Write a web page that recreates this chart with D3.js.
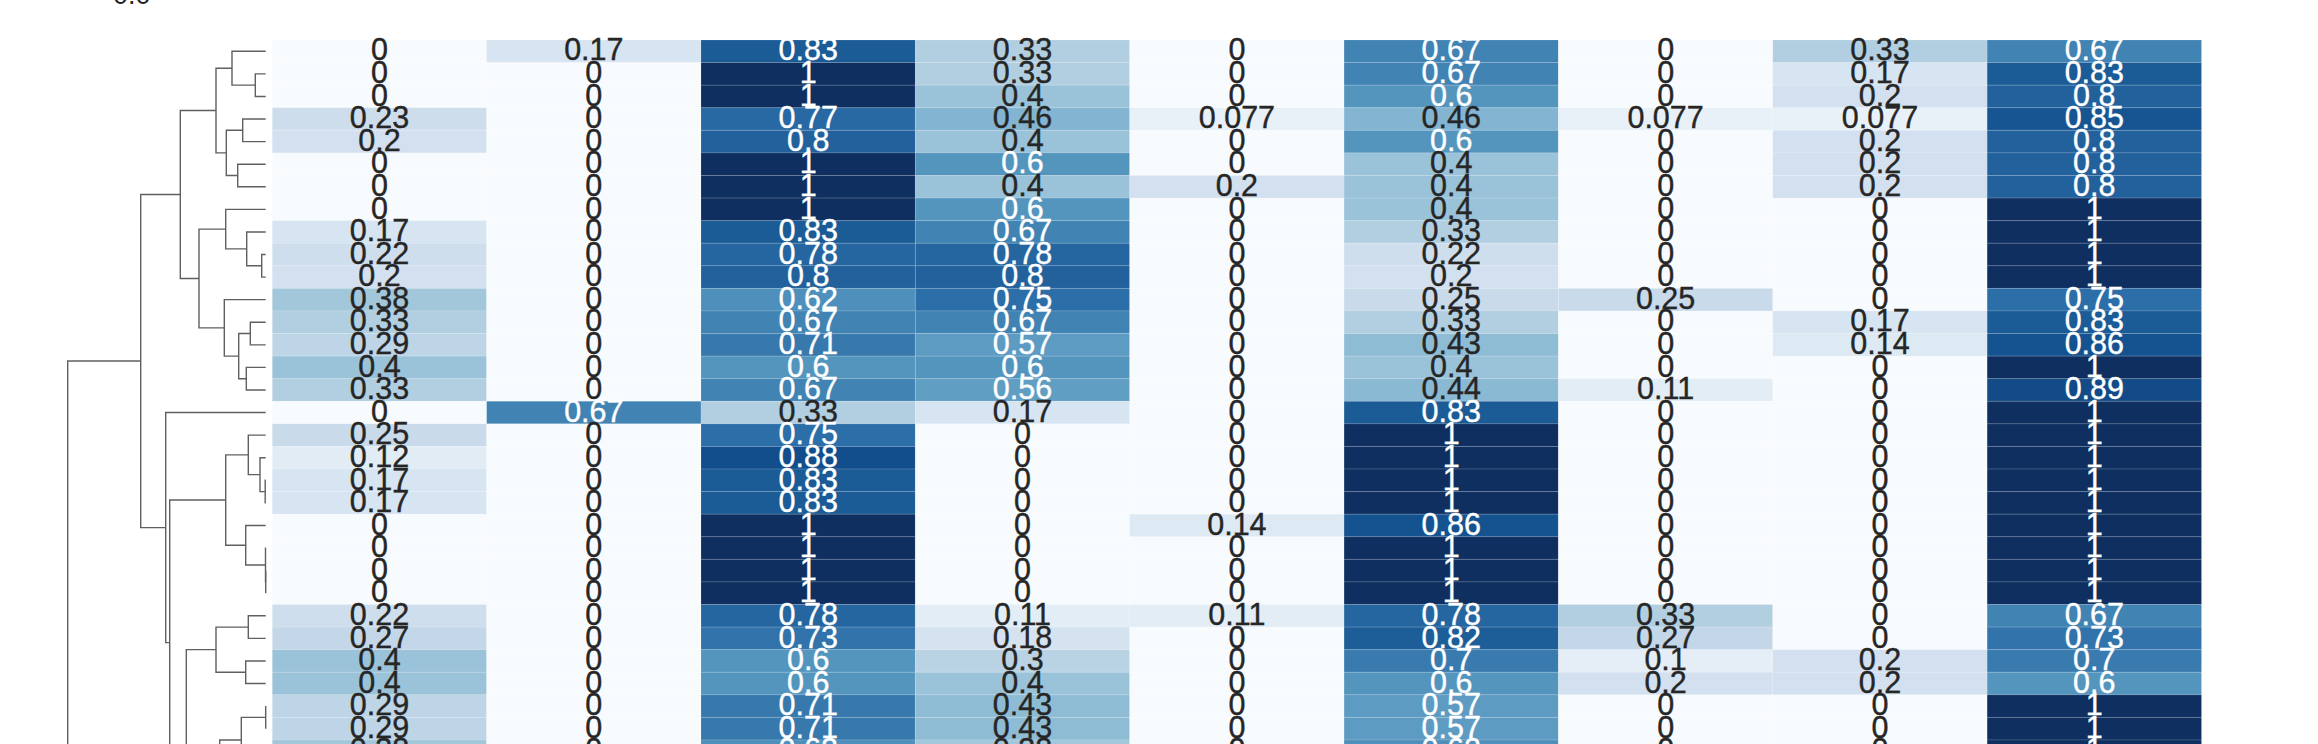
<!DOCTYPE html>
<html>
<head>
<meta charset="utf-8">
<script src="https://cdn.jsdelivr.net/npm/d3@7"></script>
<style>
  html, body { margin: 0; padding: 0; background: #ffffff; }
  svg { display: block; }
</style>
</head>
<body>
<script>
// ---------------- DATA (rows in dendrogram leaf order) ----------------
const columnKeys = ["c1", "c2", "c3", "c4", "c5", "c6", "c7", "c8", "c9"];

const col1 = [0, 0, 0, 0.23, 0.2, 0, 0, 0, 0.17, 0.22, 0.2, 0.38, 0.33, 0.29, 0.4, 0.33,
              0, 0.25, 0.12, 0.17, 0.17, 0, 0, 0, 0, 0.22, 0.27, 0.4, 0.4, 0.29, 0.29, 0.38];
const col2 = [0.17, 0, 0, 0, 0, 0, 0, 0, 0, 0, 0, 0, 0, 0, 0, 0,
              0.67, 0, 0, 0, 0, 0, 0, 0, 0, 0, 0, 0, 0, 0, 0, 0];
const col3 = [0.83, 1, 1, 0.77, 0.8, 1, 1, 1, 0.83, 0.78, 0.8, 0.62, 0.67, 0.71, 0.6, 0.67,
              0.33, 0.75, 0.88, 0.83, 0.83, 1, 1, 1, 1, 0.78, 0.73, 0.6, 0.6, 0.71, 0.71, 0.62];
const col4 = [0.33, 0.33, 0.4, 0.46, 0.4, 0.6, 0.4, 0.6, 0.67, 0.78, 0.8, 0.75, 0.67, 0.57, 0.6, 0.56,
              0.17, 0, 0, 0, 0, 0, 0, 0, 0, 0.11, 0.18, 0.3, 0.4, 0.43, 0.43, 0.38];
const col5 = [0, 0, 0, 0.077, 0, 0, 0.2, 0, 0, 0, 0, 0, 0, 0, 0, 0,
              0, 0, 0, 0, 0, 0.14, 0, 0, 0, 0.11, 0, 0, 0, 0, 0, 0];
const col6 = [0.67, 0.67, 0.6, 0.46, 0.6, 0.4, 0.4, 0.4, 0.33, 0.22, 0.2, 0.25, 0.33, 0.43, 0.4, 0.44,
              0.83, 1, 1, 1, 1, 0.86, 1, 1, 1, 0.78, 0.82, 0.7, 0.6, 0.57, 0.57, 0.62];
const col7 = [0, 0, 0, 0.077, 0, 0, 0, 0, 0, 0, 0, 0.25, 0, 0, 0, 0.11,
              0, 0, 0, 0, 0, 0, 0, 0, 0, 0.33, 0.27, 0.1, 0.2, 0, 0, 0];
const col8 = [0.33, 0.17, 0.2, 0.077, 0.2, 0.2, 0.2, 0, 0, 0, 0, 0, 0.17, 0.14, 0, 0,
              0, 0, 0, 0, 0, 0, 0, 0, 0, 0, 0, 0.2, 0.2, 0, 0, 0];
const col9 = [0.67, 0.83, 0.8, 0.85, 0.8, 0.8, 0.8, 1, 1, 1, 1, 0.75, 0.83, 0.86, 1, 0.89,
              1, 1, 1, 1, 1, 1, 1, 1, 1, 0.67, 0.73, 0.7, 0.6, 1, 1, 1];

// leaves of the row dendrogram that lie below the visible window
const hiddenLeafCount = 25;

// row linkage: [left, right, merge distance]; numbers = leaf index, "mK" = K-th merge
const linkage = [
  [1, 2, 0.104], [0, "m0", 0.337], [3, 4, 0.23], [5, 6, 0.28], ["m2", "m3", 0.394],
  ["m1", "m4", 0.497], [9, 10, 0.04], [8, "m6", 0.19], [7, "m7", 0.40], [12, 13, 0.154],
  [14, 15, 0.194], ["m9", "m10", 0.27], [11, "m11", 0.414], ["m8", "m12", 0.667], ["m5", "m13", 0.854],
  [19, 20, 0.005], [18, "m15", 0.057], [17, "m16", 0.174], [23, 24, 0.0], [22, "m18", 0.002],
  [21, "m19", 0.20], ["m17", "m20", 0.40], [25, 26, 0.174], [27, 28, 0.20], ["m22", "m23", 0.497],
  [29, 30, 0.0], [31, 32, 0.10], ["m25", "m26", 0.244], [33, 34, 0.10], [35, 36, 0.10],
  ["m28", "m29", 0.30], ["m27", "m30", 0.46], [37, 38, 0.1], [39, 40, 0.1], [41, 42, 0.1],
  [43, 44, 0.1], ["m32", "m33", 0.2], ["m34", "m35", 0.2], ["m36", "m37", 0.35], [45, 46, 0.1],
  [47, 48, 0.1], [49, 50, 0.1], [51, 52, 0.1], ["m39", "m40", 0.2], ["m41", "m42", 0.2],
  ["m43", "m44", 0.35], ["m38", "m45", 0.5], ["m31", "m46", 0.6], ["m24", "m47", 0.794], ["m21", "m48", 0.96],
  [16, "m49", 1.0], ["m14", "m50", 1.25], [53, 54, 0.1], [55, 56, 0.1], ["m52", "m53", 0.3],
  ["m51", "m54", 1.98]
];

const colorbarTicks = ["0.0"];
const blues = ["#f7fbff", "#deebf7", "#c6dbef", "#9ecae1", "#6baed6", "#4292c6", "#2171b5", "#08519c", "#08306b"];

// ---------------- CHART ----------------
const W = 2318, H = 744;
const svg = d3.select("body").append("svg").attr("width", W).attr("height", H)
  .style("font-family", "'Liberation Sans', Arial, sans-serif");

const columns = [col1, col2, col3, col4, col5, col6, col7, col8, col9];
const nRows = col1.length;
const nLeaves = nRows + hiddenLeafCount;
const rowH = 22.58;
const heatTop = 40;

const x = d3.scaleBand().domain(columnKeys).range([272.3, 2201.5]);
const y = d3.scaleBand().domain(d3.range(nLeaves)).range([heatTop, heatTop + nLeaves * rowH]);
const baseColor = d3.scaleLinear().domain(blues.map((_, i) => i / (blues.length - 1)))
  .range(blues).interpolate(d3.interpolateRgb).clamp(true);
// slightly muted rendering of the Blues map, as in the reference
function color(v) {
  const c = d3.rgb(baseColor(v));
  const g = 0.299 * c.r + 0.587 * c.g + 0.114 * c.b;
  const m = 0.17;
  return d3.rgb(c.r + (g - c.r) * m, c.g + (g - c.g) * m, c.b + (g - c.b) * m).formatHex();
}
const fmt = d3.format(".2~g");

function lum(c) {
  const rgb = d3.rgb(c);
  const f = v => { v /= 255; return v <= 0.03928 ? v / 12.92 : Math.pow((v + 0.055) / 1.055, 2.4); };
  return 0.2126 * f(rgb.r) + 0.7152 * f(rgb.g) + 0.0722 * f(rgb.b);
}

const cells = [];
columns.forEach((arr, ci) => arr.forEach((v, ri) => cells.push({ key: columnKeys[ci], row: ri, v })));

const gHeat = svg.append("g");
gHeat.selectAll("rect").data(cells).join("rect")
  .attr("x", d => x(d.key))
  .attr("y", d => y(d.row))
  .attr("width", x.bandwidth())
  .attr("height", y.bandwidth())
  .attr("fill", d => color(d.v))
  .attr("stroke", "rgba(255,255,255,0.13)")
  .attr("stroke-width", 1);

gHeat.selectAll("text").data(cells).join("text")
  .attr("x", d => x(d.key) + x.bandwidth() / 2)
  .attr("y", d => y(d.row) + y.bandwidth() / 2 + 9.2)
  .attr("text-anchor", "middle")
  .attr("font-size", 30.5)
  .attr("fill", d => lum(baseColor(d.v)) > 0.408 ? "#262626" : "#ffffff")
  .attr("stroke", d => lum(baseColor(d.v)) > 0.408 ? "#262626" : "#ffffff")
  .attr("stroke-width", 0.4)
  .text(d => fmt(d.v));

// ---------------- DENDROGRAM ----------------
const maxH = d3.max(linkage, d => d[2]);
const dx = d3.scaleLinear().domain([0, maxH * 1.05]).range([265.7, 57.8]);
const merged = {};
const pos = ref => typeof ref === "number" ? { y: y(ref) + y.bandwidth() / 2, h: 0 } : merged[ref];
const links = linkage.map((m, i) => {
  const a = pos(m[0]), b = pos(m[1]);
  merged["m" + i] = { y: (a.y + b.y) / 2, h: m[2] };
  return { a, b, h: m[2] };
});

svg.append("g").selectAll("path").data(links).join("path")
  .attr("d", d => `M${dx(d.a.h)},${d.a.y}H${dx(d.h)}V${d.b.y}H${dx(d.b.h)}`)
  .attr("fill", "none")
  .attr("stroke", "#606060")
  .attr("stroke-width", 1.4);

// colorbar tick label (cut off at the top of the picture)
svg.append("g").selectAll("text").data(colorbarTicks).join("text")
  .attr("x", 113)
  .attr("y", 4)
  .attr("font-size", 27)
  .attr("fill", "#262626")
  .text(d => d);
</script>
</body>
</html>
